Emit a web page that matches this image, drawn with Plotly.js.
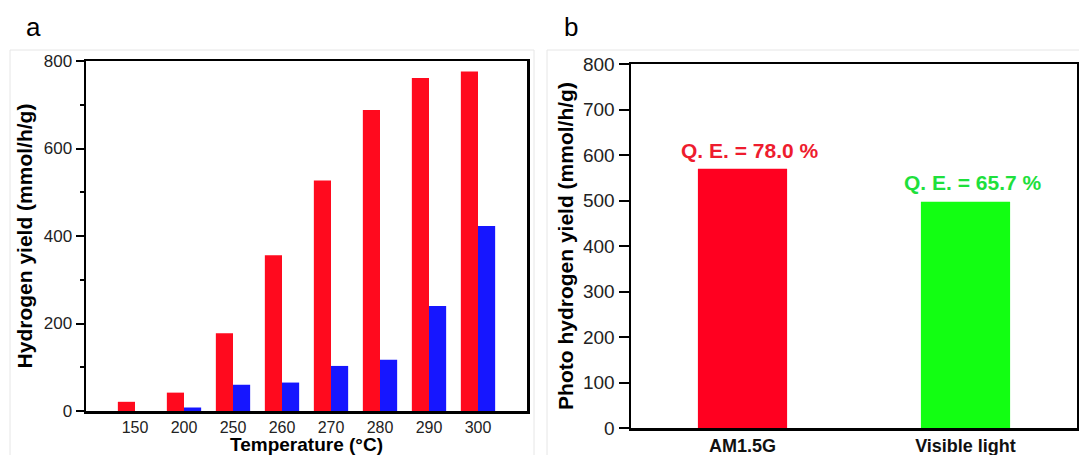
<!DOCTYPE html>
<html>
<head>
<meta charset="utf-8">
<script src="https://cdn.plot.ly/plotly-3.0.1.min.js"></script>
<style>html,body{margin:0;padding:0;background:#fff;}#chart{width:1079px;height:455px;}</style>
</head>
<body>
<div id="chart"></div>
<script>
// Panel a data
const temps = ['150', '200', '250', '260', '270', '280', '290', '300'];
const redYield = [21, 42, 178, 356, 527, 688, 761, 776];
const blueYield = [0, 8, 60, 65, 103, 117, 240, 423];
// Panel b data
const lightSources = ['AM1.5G', 'Visible light'];
const photoYield = [570, 497];
const qeLabels = ['Q. E. = 78.0 %', 'Q. E. = 65.7 %'];

const W = 1079, H = 455;
const px = v => v / W;
const py = v => 1 - v / H;
const FONT = 'Arial, "Liberation Sans", sans-serif';

const traces = [
  {type: 'bar', x: temps, y: redYield, xaxis: 'x', yaxis: 'y',
   marker: {color: '#ff0a1e', line: {width: 0}}, showlegend: false, hoverinfo: 'none'},
  {type: 'bar', x: temps, y: blueYield, xaxis: 'x', yaxis: 'y',
   marker: {color: '#1616ff', line: {width: 0}}, showlegend: false, hoverinfo: 'none'},
  {type: 'bar', x: lightSources, y: photoYield, xaxis: 'x2', yaxis: 'y2', width: 0.4,
   marker: {color: ['#ff0020', '#12ff12'], line: {width: 0}}, showlegend: false, hoverinfo: 'none'}
];

const axisCommon = {
  showline: true, linecolor: '#000', linewidth: 2.5, mirror: true,
  showgrid: false, zeroline: false, fixedrange: true
};

const layout = {
  width: W, height: H,
  margin: {l: 0, r: 0, t: 0, b: 0},
  paper_bgcolor: '#fff', plot_bgcolor: '#fff',
  font: {family: FONT, color: '#222'},
  barmode: 'group', bargap: 0.3, bargroupgap: 0,
  xaxis: Object.assign({}, axisCommon, {
    domain: [px(86), px(527)], anchor: 'y', type: 'category',
    range: [-1, 8], ticks: '', ticklabelstandoff: 0, tickfont: {size: 16, color: '#222'},
    title: {text: '<b>Temperature (°C)</b>', font: {size: 19, color: '#000'}, standoff: 3}
  }),
  yaxis: Object.assign({}, axisCommon, {
    domain: [py(411), py(61)], anchor: 'x', range: [0, 800],
    tickvals: [0, 200, 400, 600, 800], ticks: 'outside', ticklen: 8, tickwidth: 2, tickcolor: '#000',
    minor: {tickvals: [100, 300, 500, 700], ticks: 'outside', ticklen: 4, tickwidth: 2, tickcolor: '#000'},
    tickfont: {size: 17, color: '#222'},
    title: {text: '<b>Hydrogen yield (mmol/h/g)</b>', font: {size: 21, color: '#000'}, standoff: 6}
  }),
  xaxis2: Object.assign({}, axisCommon, {
    domain: [px(631), px(1077)], anchor: 'y2', type: 'category',
    range: [-0.5, 1.5], ticks: '', ticklabelstandoff: 0,
    tickfont: {size: 18, color: '#111', family: FONT, weight: 'bold'}
  }),
  yaxis2: Object.assign({}, axisCommon, {
    domain: [py(428), py(64)], anchor: 'x2', range: [0, 800], dtick: 100,
    ticks: 'outside', ticklen: 10, tickwidth: 2, tickcolor: '#000',
    tickfont: {size: 19, color: '#222'},
    title: {text: '<b>Photo hydrogen yield (mmol/h/g)</b>', font: {size: 21, color: '#000'}, standoff: 4}
  }),
  annotations: [
    {xref: 'x2', yref: 'y2', x: lightSources[0], y: 610, text: '<b>' + qeLabels[0] + '</b>',
     showarrow: false, xshift: 7, yanchor: 'middle', font: {size: 21, color: '#ee1c2e'}},
    {xref: 'x2', yref: 'y2', x: lightSources[1], y: 540, text: '<b>' + qeLabels[1] + '</b>',
     showarrow: false, xshift: 7, yanchor: 'middle', font: {size: 21, color: '#1ee03c'}},
    {xref: 'paper', yref: 'paper', x: px(24), y: py(27), text: 'a', showarrow: false,
     xanchor: 'left', yanchor: 'middle', font: {size: 26, color: '#000'}},
    {xref: 'paper', yref: 'paper', x: px(562), y: py(27), text: 'b', showarrow: false,
     xanchor: 'left', yanchor: 'middle', font: {size: 26, color: '#000'}}
  ],
  shapes: [
    {type: 'rect', xref: 'paper', yref: 'paper', x0: px(10), x1: px(534), y0: -0.1, y1: py(50),
     line: {color: '#e6e6e6', width: 1}, layer: 'below'},
    {type: 'rect', xref: 'paper', yref: 'paper', x0: px(547), x1: 1.1, y0: -0.1, y1: py(50),
     line: {color: '#e6e6e6', width: 1}, layer: 'below'}
  ]
};

Plotly.newPlot('chart', traces, layout, {displayModeBar: false, staticPlot: true});
</script>
</body>
</html>
